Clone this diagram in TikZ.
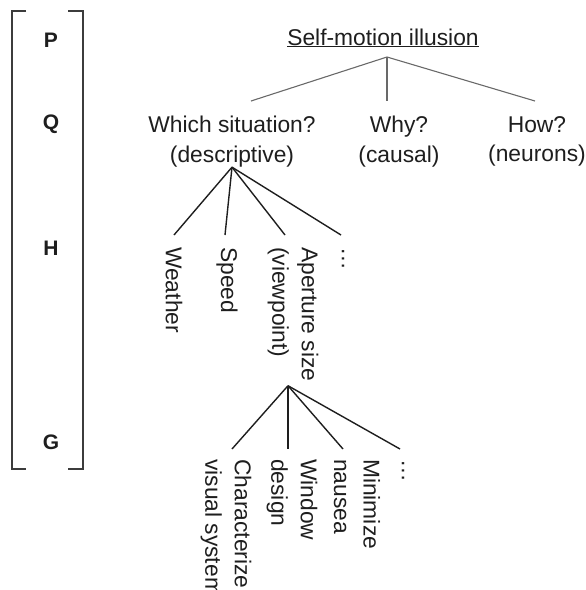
\documentclass[tikz,border=0pt]{standalone}
\usepackage{fontspec}
\setmainfont{Liberation Sans}
\usetikzlibrary{positioning,calc}
\definecolor{InkColor}{RGB}{30,30,30}
\definecolor{BracketColor}{RGB}{60,60,60}
\definecolor{StemColor}{RGB}{105,105,105}

\begin{document}
\begin{tikzpicture}[x=1pt, y=-1pt,
    text=InkColor,
    every node/.style={inner sep=0pt, font=\fontsize{22.8}{29.5}\selectfont},
    tier/.style={font=\fontsize{21}{24}\selectfont\bfseries},
    question/.style={align=center, anchor=north},
    leaf/.style={rotate=-90, anchor=west, align=left},
    stem/.style={draw=StemColor, line width=1.1pt},
    twig/.style={draw=InkColor, line width=1.4pt}]

    \useasboundingbox (0,0) rectangle (586,590);

    % level letters and bracket
    \node[tier] (LevelP) at (51,40) {P};
    \node[tier] (LevelQ) at (51,124) {Q};
    \node[tier] (LevelH) at (51,248) {H};
    \node[tier] (LevelG) at (51,442) {G};
    \draw[draw=BracketColor, line width=1.5pt]
        (26,11) -- (12,11) -- (12,469) -- (26,469);
    \draw[draw=BracketColor, line width=1.5pt]
        (68,11) -- (83,11) -- (83,469) -- (68,469);

    % top of the tree
    \node[anchor=base] (Title) at (383,45) {\underline{Self-motion illusion}};
    \coordinate (TitleApex) at (387,57);

    \node[question] (Which) at (232,116) {Which situation?\\(descriptive)};
    \node[question] (Why) at (399,116) {Why?\\(causal)};
    \node[question] (How) at (537,116) {How?\\(neurons)};

    \foreach \to/\dx in {Which/19, Why/-12, How/-2}
    \draw[stem] (TitleApex) -- ([xshift=\dx pt, yshift=15pt]\to.north);

    % situations
    \node[leaf] (Weather) at (174,247) {Weather};
    \node[leaf] (Speed) at (227,247) {Speed};
    \node[leaf] (Aperture) at (293,247) {Aperture size\\(viewpoint)};
    \node[leaf] (MoreH) at (343,247) {\dots};

    \foreach \to/\dx in {Weather/0, Speed/-2, Aperture/-8, MoreH/-2}
    \draw[twig] (Which.south) -- ([xshift=\dx pt, yshift=12pt]\to.west);

    % aperture size
    \coordinate (ApertureApex) at ([xshift=-5pt, yshift=-4pt]Aperture.east);

    \node[leaf] (Characterize) at (226,459) {Characterize\\visual system};
    \node[leaf] (Window) at (292,459) {Window\\design};
    \node[leaf] (Minimize) at (357,459) {Minimize\\nausea};
    \node[leaf] (MoreG) at (403,459) {\dots};

    \foreach \to/\dx in {Characterize/6, Window/-4, Minimize/-14, MoreG/-3}
    \draw[twig] (ApertureApex) -- ([xshift=\dx pt, yshift=10pt]\to.west);

\end{tikzpicture}
\end{document}
